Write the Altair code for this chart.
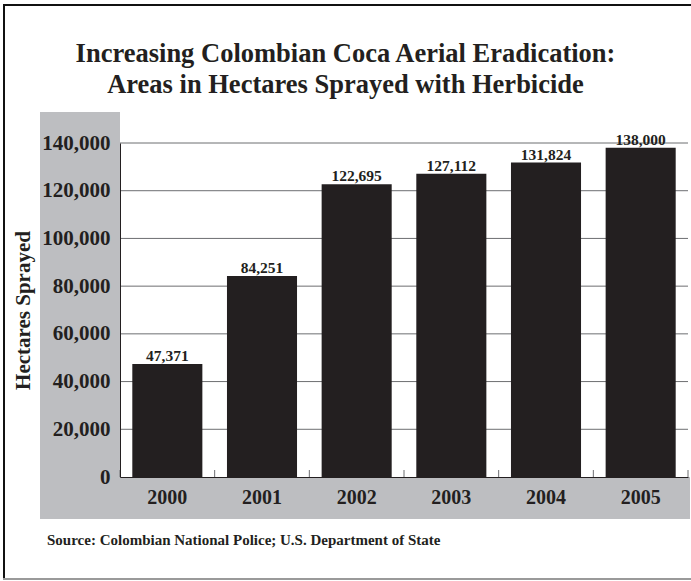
import altair as alt
import pandas as pd

# ---- data -------------------------------------------------------------
years = ["2000", "2001", "2002", "2003", "2004", "2005"]
hectares = [47371, 84251, 122695, 127112, 131824, 138000]
y_ticks = [0, 20000, 40000, 60000, 80000, 100000, 120000, 140000]
title_lines = [
    "Increasing Colombian Coca Aerial Eradication:",
    "Areas in Hectares Sprayed with Herbicide",
]
source_text = "Source: Colombian National Police; U.S. Department of State"
y_title = "Hectares Sprayed"

df = pd.DataFrame({"year": years, "hectares": hectares})
grid_df = pd.DataFrame({"hectares": y_ticks[1:]})

FONT = "Liberation Serif"
INK = "#231f20"
GRAY = "#bdbec1"
GRID = "#6d6e71"

W, H = 568, 334
STEP = W / len(years)

one = alt.Data(values=[{"k": 1}])

y_scale = alt.Scale(domain=[0, 140000], nice=False)
y_axis = alt.Axis(
    title=y_title, orient="left", values=y_ticks, format=",d",
    labelExpr="format(datum.value, ',d')",
    grid=False, ticks=False, tickSize=0,
    labelFont=FONT, labelFontSize=21, labelFontWeight="bold", labelColor=INK,
    labelPadding=10, domainColor=INK, domainWidth=1,
    titleFont=FONT, titleFontSize=21, titleFontWeight="bold", titleColor=INK,
    titleAngle=270, titleX=-91, titleY=H / 2, titleBaseline="alphabetic",
    titleAlign="center", zindex=1,
)
x_scale = alt.Scale(paddingInner=0.26, paddingOuter=0.13)
x_axis = alt.Axis(
    title=None, orient="bottom", labelAngle=0, grid=False, ticks=False, tickSize=0,
    labelFont=FONT, labelFontSize=20, labelFontWeight="bold", labelColor=INK,
    labelBaseline="alphabetic", labelPadding=26, domainColor=INK, domainWidth=1,
    zindex=1,
)

# gray frame strips (left and bottom)
gray_left = alt.Chart(one).mark_rect(color=GRAY).encode(
    x=alt.value(-80), x2=alt.value(0), y=alt.value(-31), y2=alt.value(H + 42)
)
gray_bottom = alt.Chart(one).mark_rect(color=GRAY).encode(
    x=alt.value(0), x2=alt.value(W + 2), y=alt.value(H), y2=alt.value(H + 42)
)

grid = alt.Chart(grid_df).mark_rule(color=GRID, strokeWidth=1).encode(
    y=alt.Y("hectares:Q", scale=y_scale, axis=y_axis)
)

bars = alt.Chart(df).mark_bar(color=INK).encode(
    x=alt.X("year:O", scale=x_scale, axis=x_axis, sort=years),
    y=alt.Y("hectares:Q", scale=y_scale, axis=y_axis),
)

labels = alt.Chart(df).mark_text(
    font=FONT, fontSize=15.5, fontWeight="bold", color=INK,
    baseline="alphabetic", dy=-3,
).encode(
    x=alt.X("year:O", scale=x_scale, axis=x_axis, sort=years),
    y=alt.Y("hectares:Q", scale=y_scale, axis=y_axis),
    text=alt.Text("hectares:Q", format=","),
)

ticks = alt.Chart(df).mark_rule(color=GRID, strokeWidth=1, xOffset=-STEP / 2).encode(
    x=alt.X("year:O", scale=x_scale, axis=x_axis, sort=years),
    y=alt.value(H - 7), y2=alt.value(H),
)
tick_end = alt.Chart(df).transform_filter(
    alt.datum.year == years[-1]
).mark_rule(color=GRID, strokeWidth=1, xOffset=STEP / 2).encode(
    x=alt.X("year:O", scale=x_scale, axis=x_axis, sort=years),
    y=alt.value(H - 7), y2=alt.value(H),
)

# outer frame
border_left = alt.Chart(one).mark_rule(color="#111111", strokeWidth=2).encode(
    x=alt.value(-116), y=alt.value(-138), y2=alt.value(437)
)
border_top = alt.Chart(one).mark_rule(color="#111111", strokeWidth=2).encode(
    x=alt.value(-117), x2=alt.value(W + 3), y=alt.value(-138)
)
border_bottom = alt.Chart(one).mark_rule(color="#9a9a9a", strokeWidth=2).encode(
    x=alt.value(-117), x2=alt.value(W + 3), y=alt.value(436)
)

title1 = alt.Chart(one).mark_text(
    font=FONT, fontSize=26.5, fontWeight="bold", color=INK,
    align="center", baseline="alphabetic",
).encode(x=alt.value(225.5), y=alt.value(-81), text=alt.value(title_lines[0]))
title2 = alt.Chart(one).mark_text(
    font=FONT, fontSize=26.5, fontWeight="bold", color=INK,
    align="center", baseline="alphabetic",
).encode(x=alt.value(225.5), y=alt.value(-50), text=alt.value(title_lines[1]))

source = alt.Chart(one).mark_text(
    font=FONT, fontSize=15, fontWeight="bold", color=INK,
    align="left", baseline="alphabetic",
).encode(x=alt.value(-73), y=alt.value(402), text=alt.value(source_text))

chart = alt.layer(
    gray_left, gray_bottom, grid, bars, labels, ticks, tick_end,
    border_left, border_top, border_bottom, title1, title2, source,
).properties(
    width=W, height=H,
    autosize=alt.AutoSizeParams(type="none"),
    padding={"left": 120, "top": 143, "right": 3, "bottom": 104},
    background="white",
).configure_view(stroke="transparent", strokeWidth=0)

chart.save("out.html", embed_options={"renderer": "svg", "actions": False})
